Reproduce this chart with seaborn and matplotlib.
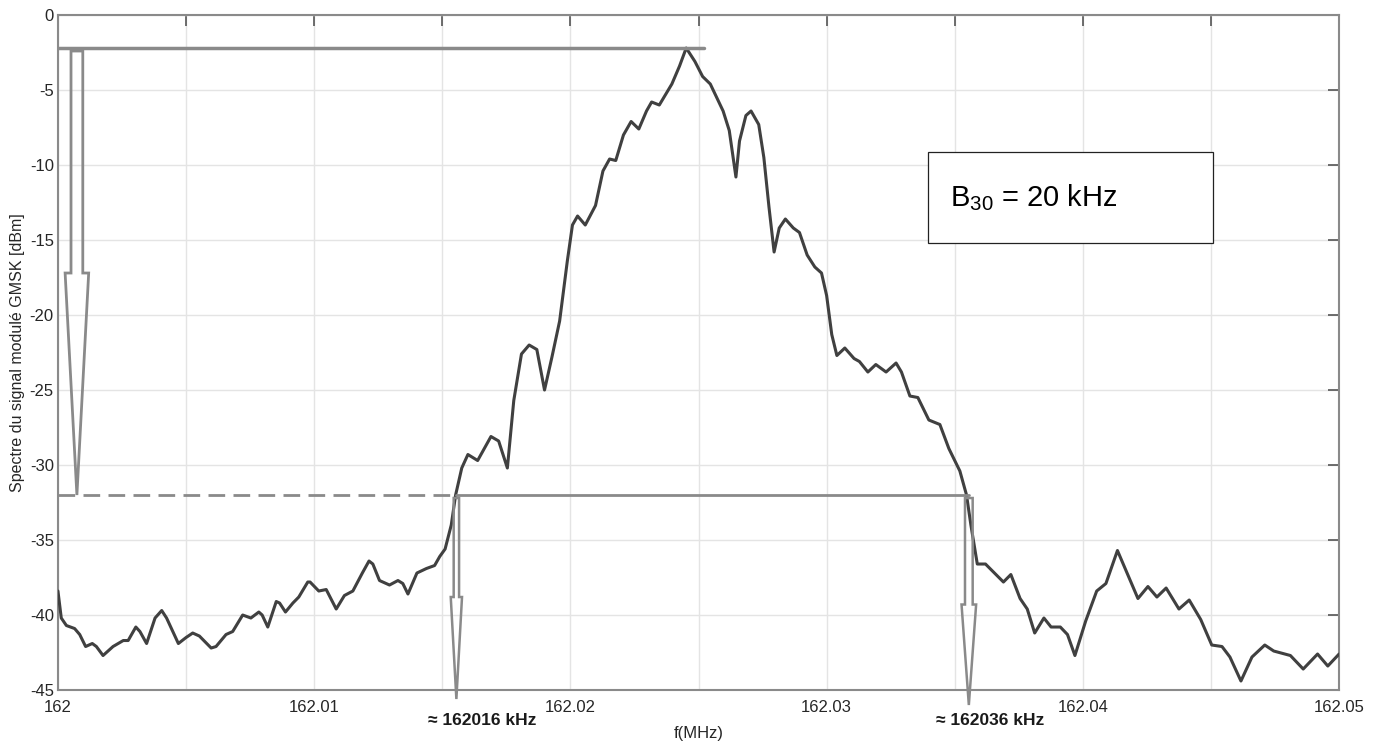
import numpy as np
import pandas as pd
import matplotlib
matplotlib.use("Agg")
import matplotlib.pyplot as plt
import matplotlib.ticker as mticker
from matplotlib.patches import FancyArrow, Rectangle
import seaborn as sns

# spectre : ecart en kHz par rapport a 162 MHz, niveau en dBm
offset_khz = [0.00, 0.13, 0.33, 0.65, 0.85, 1.08, 1.34, 1.50, 1.76, 2.15, 2.55, 2.74,
              3.04, 3.20, 3.46, 3.79, 4.05, 4.24, 4.70, 5.00, 5.26, 5.52, 5.98, 6.17,
              6.56, 6.82, 7.21, 7.53, 7.84, 7.97, 8.19, 8.52, 8.65, 8.88, 9.17, 9.40,
              9.75, 9.84, 10.18, 10.47, 10.86, 11.18, 11.51, 11.88, 12.14, 12.29, 12.55,
              12.94, 13.27, 13.46, 13.66, 14.01, 14.38, 14.70, 14.90, 15.11, 15.35, 15.52,
              15.76, 16.00, 16.38, 16.90, 17.20, 17.54, 17.79, 18.09, 18.39, 18.69, 18.99,
              19.28, 19.58, 19.88, 20.08, 20.28, 20.58, 20.98, 21.27, 21.53, 21.77, 22.07,
              22.37, 22.67, 22.97, 23.17, 23.47, 23.96, 24.26, 24.52, 24.86, 25.16, 25.46,
              25.96, 26.20, 26.46, 26.60, 26.85, 27.05, 27.35, 27.55, 27.75, 27.95, 28.15,
              28.39, 28.70, 28.94, 29.24, 29.54, 29.80, 30.00, 30.20, 30.40, 30.71, 31.07,
              31.28, 31.61, 31.92, 32.32, 32.71, 32.92, 33.25, 33.56, 33.99, 34.42, 34.77,
              35.20, 35.46, 35.63, 35.88, 36.20, 36.55, 36.90, 37.19, 37.55, 37.83, 38.12,
              38.48, 38.76, 39.12, 39.40, 39.69, 40.11, 40.54, 40.90, 41.35, 41.75, 42.15,
              42.54, 42.89, 43.25, 43.75, 44.15, 44.60, 45.03, 45.43, 45.74, 46.17, 46.60,
              47.10, 47.45, 48.10, 48.60, 49.16, 49.56, 50.00]
niveau_dbm = [-38.4, -40.2, -40.7, -40.9, -41.3, -42.1, -41.9, -42.1, -42.7, -42.1, -41.7, -41.7,
              -40.8, -41.1, -41.9, -40.2, -39.7, -40.2, -41.9, -41.5, -41.2, -41.4, -42.2, -42.1,
              -41.3, -41.1, -40.0, -40.2, -39.8, -40.0, -40.8, -39.1, -39.2, -39.8, -39.2, -38.8,
              -37.8, -37.8, -38.4, -38.3, -39.6, -38.7, -38.4, -37.2, -36.4, -36.6, -37.7,
              -38.0, -37.7, -37.9, -38.6, -37.2, -36.9, -36.7, -36.1, -35.6, -34.0, -32.0,
              -30.2, -29.3, -29.7, -28.1, -28.4, -30.2, -25.7, -22.6, -22.0, -22.3, -25.0,
              -22.8, -20.4, -16.4, -14.0, -13.4, -14.0, -12.7, -10.4, -9.6, -9.7, -8.0,
              -7.1, -7.6, -6.4, -5.8, -6.0, -4.6, -3.4, -2.2, -3.1, -4.1, -4.6,
              -6.4, -7.7, -10.8, -8.4, -6.7, -6.4, -7.3, -9.5, -12.8, -15.8, -14.2,
              -13.6, -14.2, -14.5, -16.0, -16.8, -17.2, -18.7, -21.3, -22.7, -22.2, -22.9,
              -23.1, -23.8, -23.3, -23.8, -23.2, -23.8, -25.4, -25.5, -27.0, -27.3, -28.9,
              -30.4, -32.0, -34.0, -36.6, -36.6, -37.2, -37.8, -37.3, -38.9, -39.6, -41.2,
              -40.2, -40.8, -40.8, -41.3, -42.7, -40.4, -38.4, -37.9, -35.7, -37.3, -38.9,
              -38.1, -38.8, -38.2, -39.6, -39.0, -40.3, -42.0, -42.1, -42.8, -44.4, -42.8,
              -42.0, -42.4, -42.7, -43.6, -42.6, -43.4, -42.6]

f0_mhz = 162.0
niveau_max = -2.2      # sommet du spectre
niveau_30 = -32.0      # niveau -30 dB
f_bas = 162.01555      # croisements a -30 dB
f_haut = 162.03555
label_bas = "≈ 162016 kHz"
label_haut = "≈ 162036 kHz"
texte_b30 = r"B$_{\mathrm{30}}$ = 20 kHz"
x_ticks = [162.0, 162.005, 162.01, 162.015, 162.02, 162.025, 162.03, 162.035, 162.04, 162.045, 162.05]
y_ticks = [0, -5, -10, -15, -20, -25, -30, -35, -40, -45]

df = pd.DataFrame({"f": f0_mhz + np.array(offset_khz) / 1000.0, "P": niveau_dbm})

sns.set_theme(style="whitegrid")
plt.rcParams["font.family"] = ["Liberation Sans", "DejaVu Sans"]
plt.rcParams["axes.unicode_minus"] = False
plt.rcParams["mathtext.fontset"] = "custom"
plt.rcParams["mathtext.rm"] = "Liberation Sans"

gris = "#8a8a8a"
fig = plt.figure(figsize=(13.73, 7.43), dpi=100)
ax = fig.add_axes([0.0422, 0.0713, 0.9331, 0.9085])

sns.lineplot(data=df, x="f", y="P", ax=ax, color="#404040", linewidth=2.2, zorder=3)

# repere du maximum et du niveau -30 dB
ax.plot([f0_mhz, 162.0252], [niveau_max, niveau_max], color=gris, lw=2.5, zorder=4)
ax.plot([f0_mhz, f_bas], [niveau_30, niveau_30], color=gris, lw=2.0, ls=(0, (6, 3)), zorder=4)
ax.plot([f_bas, f_haut], [niveau_30, niveau_30], color=gris, lw=2.0, zorder=4)

ax.add_patch(FancyArrow(162.00074, -2.4, 0, -29.6, width=0.00046, head_width=0.00092,
                        head_length=14.8, length_includes_head=True,
                        facecolor="none", edgecolor=gris, lw=2.0, zorder=4))
ax.add_patch(FancyArrow(f_bas, -32.2, 0, -13.4, width=0.00021, head_width=0.00044,
                        head_length=6.8, length_includes_head=True, clip_on=False,
                        facecolor="none", edgecolor=gris, lw=1.8, zorder=4))
ax.add_patch(FancyArrow(f_haut, -32.2, 0, -13.8, width=0.00030, head_width=0.00057,
                        head_length=6.7, length_includes_head=True, clip_on=False,
                        facecolor="none", edgecolor=gris, lw=1.8, zorder=4))

ax.text(162.01655, -47.05, label_bas, ha="center", va="center", fontsize=12.5,
        fontweight="bold", color="#1a1a1a")
ax.text(162.0364, -47.05, label_haut, ha="center", va="center", fontsize=12.5,
        fontweight="bold", color="#1a1a1a")

# encadre B30
ax.add_patch(Rectangle((162.03396, -15.2), 0.01112, 6.07, facecolor="white",
                       edgecolor="#222222", lw=0.9, zorder=5))
ax.text(162.0348, -12.15, texte_b30, ha="left", va="center", fontsize=21,
        color="black", zorder=6)

ax.set_xlim(162.0, 162.05)
ax.set_ylim(-45, 0)
ax.xaxis.set_major_locator(mticker.FixedLocator(x_ticks))
ax.xaxis.set_major_formatter(mticker.FuncFormatter(
    lambda v, p: ("%g" % round(v, 2)) if abs(v * 100 - round(v * 100)) < 1e-6 else ""))
ax.yaxis.set_major_locator(mticker.FixedLocator(y_ticks))
ax.yaxis.set_major_formatter(mticker.FuncFormatter(lambda v, p: "%d" % v))

ax.grid(True, color="#e4e4e4", lw=1.0)
ax.tick_params(axis="both", direction="in", length=8, width=1.2, color="#555555",
               labelsize=12, labelcolor="#262626", top=True, right=True, pad=3)
ax.tick_params(axis="x", pad=7)
for lab in ax.get_yticklabels():
    lab.set_verticalalignment("center_baseline")
for s in ax.spines.values():
    s.set_visible(True)
    s.set_color("#8a8a8a")
    s.set_linewidth(1.5)

ax.set_xlabel("f(MHz)", fontsize=12, color="#262626", labelpad=8)
ax.set_ylabel("Spectre du signal modulé GMSK [dBm]", fontsize=11.5, color="#262626", labelpad=3)

fig.savefig("out.png", dpi=100)
